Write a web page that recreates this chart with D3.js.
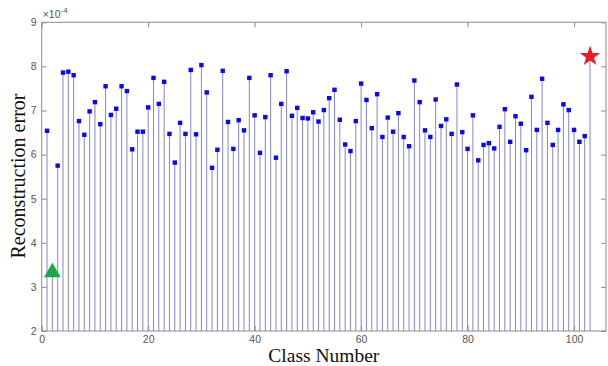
<!DOCTYPE html>
<html><head><meta charset="utf-8">
<script src="https://cdn.jsdelivr.net/npm/d3@7"></script>
<style>body{margin:0;background:#fff}svg{display:block}</style>
</head><body>
<svg id="c" width="608" height="366"></svg>
<script>
// Reconstruction error (×1e-4) for classes 1..103
const errors = [6.54,3.35,5.75,7.86,7.88,7.80,6.76,6.45,6.98,7.19,6.69,7.55,6.90,7.04,7.55,7.44,6.12,6.52,6.52,7.07,
7.74,7.15,7.65,6.47,5.82,6.72,6.47,7.92,6.46,8.03,7.41,5.70,6.11,7.90,6.74,6.13,6.78,6.55,7.74,6.89,
6.04,6.85,7.80,5.93,7.15,7.89,6.88,7.06,6.83,6.82,6.96,6.75,7.01,7.28,7.47,6.79,6.23,6.08,6.76,7.61,
7.24,6.60,7.37,6.40,6.84,6.52,6.94,6.40,6.19,7.68,7.19,6.55,6.40,7.25,6.65,6.80,6.47,7.59,6.51,6.13,
6.89,5.87,6.22,6.26,6.14,6.63,7.03,6.29,6.87,6.70,6.10,7.31,6.56,7.72,6.72,6.22,6.56,7.14,7.01,6.56,
6.29,6.42,8.25];
const classes = errors.map((d,i)=>i+1);
const lowClass = 2;     // green triangle
const highClass = 103;  // red star
const xTicks = [0,20,40,60,80,100];
const yTicks = [2,3,4,5,6,7,8,9];
const xDomain = [0,106];
const yDomain = [2,9];

const svg = d3.select('#c');
const L=41.7, R=606, T=22.3, B=331;
const x = d3.scaleLinear().domain(xDomain).range([L,R]);
const y = d3.scaleLinear().domain(yDomain).range([B,T]);
const axisCol = '#8c8c8c';

// stems
svg.append('g').selectAll('line').data(classes).join('line')
  .attr('x1',d=>x(d)).attr('x2',d=>x(d))
  .attr('y1',y(2)).attr('y2',(d,i)=>y(errors[i]))
  .attr('stroke','#8585cc').attr('stroke-width',1);

// markers
const normal = classes.filter(c=>c!==lowClass && c!==highClass);
svg.append('g').selectAll('rect').data(normal).join('rect')
  .attr('x',d=>x(d)-2.2).attr('y',d=>y(errors[d-1])-2.2)
  .attr('width',4.4).attr('height',4.4).attr('fill','#0a0af0');

svg.append('path')
  .attr('d', d3.symbol(d3.symbolTriangle, 120)())
  .attr('transform',`translate(${x(lowClass)},${y(errors[lowClass-1])+1})`)
  .attr('fill','#1aa84a');
svg.append('path')
  .attr('d', d3.symbol(d3.symbolStar, 130)())
  .attr('transform',`translate(${x(highClass)},${y(errors[highClass-1])+1})`)
  .attr('fill','#ec1c24');

// box
svg.append('rect').attr('x',L).attr('y',T).attr('width',R-L).attr('height',B-T)
  .attr('fill','none').attr('stroke',axisCol).attr('stroke-width',1);

// axes
const fmt = d3.format('d');
const tickFont = g=>g.selectAll('text').attr('font-family','Liberation Sans, Arial, sans-serif')
  .attr('font-size',10.5).attr('fill','#555');
const xa = svg.append('g').attr('transform',`translate(0,${B})`)
  .call(d3.axisBottom(x).tickValues(xTicks).tickFormat(fmt).tickSizeInner(-5).tickSizeOuter(0).tickPadding(5));
const ya = svg.append('g').attr('transform',`translate(${L},0)`)
  .call(d3.axisLeft(y).tickValues(yTicks).tickFormat(fmt).tickSizeInner(-5).tickSizeOuter(0).tickPadding(5));
const xt = svg.append('g').attr('transform',`translate(0,${T})`)
  .call(d3.axisTop(x).tickValues(xTicks).tickSizeInner(-5).tickSizeOuter(0).tickFormat(''));
const yr = svg.append('g').attr('transform',`translate(${R},0)`)
  .call(d3.axisRight(y).tickValues(yTicks).tickSizeInner(-5).tickSizeOuter(0).tickFormat(''));
[xa,ya,xt,yr].forEach(g=>{g.select('.domain').remove();g.selectAll('line').attr('stroke',axisCol);tickFont(g);});

// exponent label
const ex = svg.append('text').attr('x',L+1).attr('y',T-4)
  .attr('font-family','Liberation Sans, Arial, sans-serif').attr('font-size',10.5).attr('fill','#555');
ex.append('tspan').text('×10');
ex.append('tspan').attr('dy',-5).attr('font-size',8).text('-4');

// axis titles
svg.append('text').attr('x',(L+R)/2).attr('y',362).attr('text-anchor','middle')
  .attr('font-family','Liberation Serif, Times New Roman, serif').attr('font-size',19.5).attr('fill','#111')
  .text('Class Number');
svg.append('text').attr('transform',`translate(25,176) rotate(-90)`).attr('text-anchor','middle')
  .attr('font-family','Liberation Serif, Times New Roman, serif').attr('font-size',20).attr('fill','#111')
  .text('Reconstruction error');
</script>
</body></html>
